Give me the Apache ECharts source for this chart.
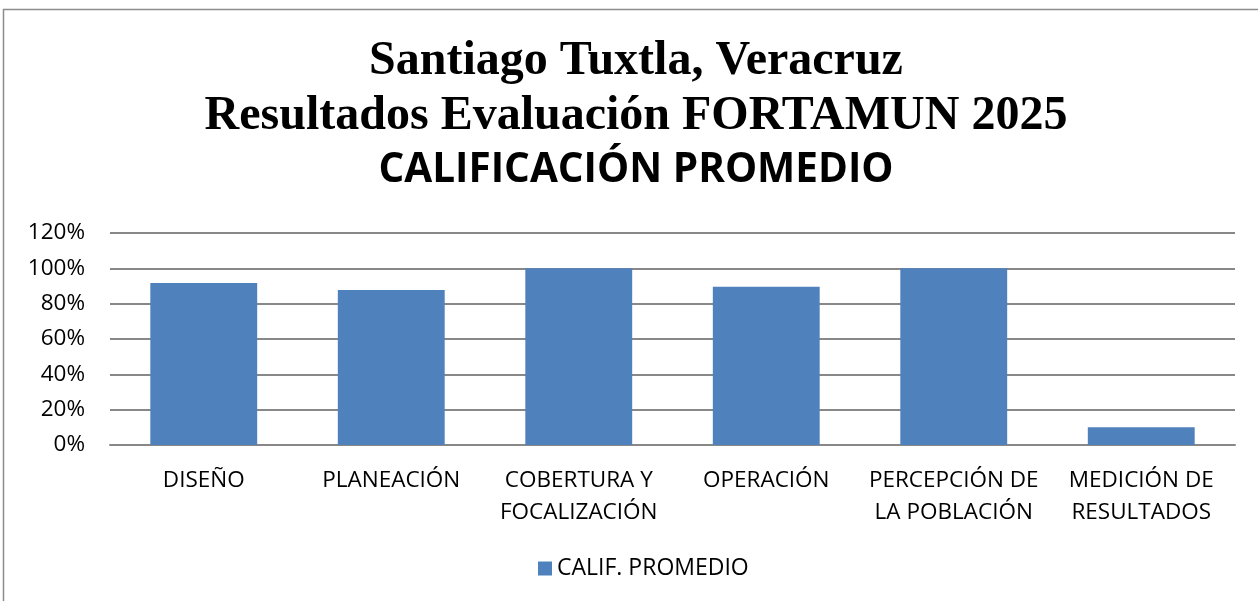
<!DOCTYPE html>
<html>
<head>
<meta charset="utf-8">
<script src="https://cdn.jsdelivr.net/npm/echarts@6/dist/echarts.min.js"></script>
<style>
  html, body { margin: 0; padding: 0; background: #fff; }
  #chart { width: 1258px; height: 601px; }
</style>
</head>
<body>
<div id="chart"></div>
<script>
var categories = ['DISEÑO', 'PLANEACIÓN', 'COBERTURA Y\nFOCALIZACIÓN', 'OPERACIÓN', 'PERCEPCIÓN DE\nLA POBLACIÓN', 'MEDICIÓN DE\nRESULTADOS'];
var promedio = [0.917, 0.877, 1.0, 0.896, 1.0, 0.10];
var seriesName = 'CALIF. PROMEDIO';
var titleLines = ['Santiago Tuxtla, Veracruz', 'Resultados Evaluación FORTAMUN 2025', 'CALIFICACIÓN PROMEDIO'];

var chart = echarts.init(document.getElementById('chart'));

// title block is centred a little right of the canvas centre, like the source
var titleX = 636;

var option = {
  animation: false,
  graphic: [
    {
      type: 'rect',
      shape: { x: 3.5, y: 9.5, width: 1270, height: 600 },
      style: { fill: 'none', stroke: '#8c8c8c', lineWidth: 1.5 }
    },
    {
      type: 'text', x: titleX, y: 38,
      style: { text: titleLines[0], font: 'bold 48px "Liberation Serif"', fill: '#000', textAlign: 'center' }
    },
    {
      type: 'text', x: titleX, y: 93,
      style: { text: titleLines[1], font: 'bold 48px "Liberation Serif"', fill: '#000', textAlign: 'center' }
    },
    {
      type: 'text', x: titleX, y: 150,
      style: { text: titleLines[2], font: 'bold 40.5px "Open Sans"', fill: '#000', textAlign: 'center' }
    }
  ],
  legend: {
    bottom: 16,
    left: 533,
    itemWidth: 14,
    itemHeight: 14,
    itemGap: 6,
    icon: 'rect',
    textStyle: { fontFamily: 'Open Sans', fontSize: 23, color: '#000' },
    data: [seriesName]
  },
  grid: { left: 110, right: 23, top: 233, bottom: 156 },
  xAxis: {
    type: 'category',
    data: categories,
    axisTick: { show: false },
    axisLine: { lineStyle: { color: '#888', width: 2 } },
    axisLabel: {
      interval: 0,
      margin: 20,
      fontFamily: 'Open Sans',
      fontSize: 22.5,
      color: '#000',
      lineHeight: 32
    }
  },
  yAxis: {
    type: 'value',
    min: 0,
    max: 1.2,
    interval: 0.2,
    axisLine: { show: false },
    axisTick: { show: false },
    splitLine: { lineStyle: { color: '#888', width: 2 } },
    axisLabel: {
      margin: 25,
      fontFamily: 'Open Sans',
      fontSize: 22.5,
      color: '#000',
      formatter: function (v) { return Math.round(v * 100) + '%'; }
    }
  },
  series: [{
    name: seriesName,
    type: 'bar',
    data: promedio,
    barCategoryGap: '43%',
    itemStyle: { color: '#4f81bd' }
  }]
};

chart.setOption(option);
</script>
</body>
</html>
